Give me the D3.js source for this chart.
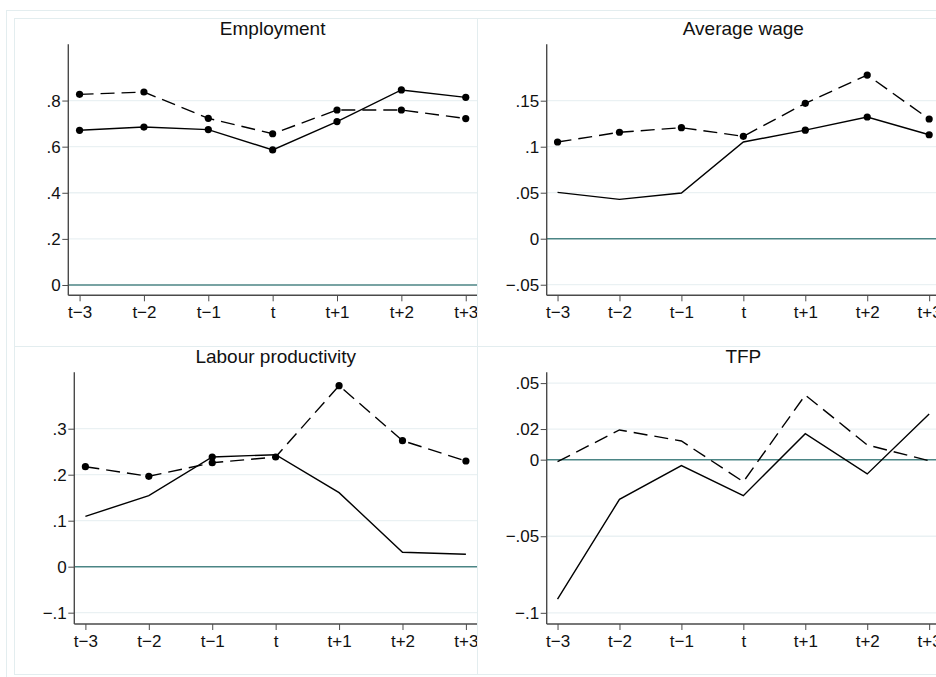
<!DOCTYPE html>
<html>
<head>
<meta charset="utf-8">
<script src="https://cdn.jsdelivr.net/npm/d3@7"></script>
<style>
  html, body { margin: 0; padding: 0; background: #fff; }
  svg { display: block; font-family: "Liberation Sans", Arial, Helvetica, sans-serif; }
</style>
</head>
<body>
<svg id="chart" width="936" height="677"></svg>
<script>
// ---------- data ----------
const periods = ["t−3", "t−2", "t−1", "t", "t+1", "t+2", "t+3"];
const panelTitles = ["Employment", "Average wage", "Labour productivity", "TFP"];

const employmentSolid  = [0.671, 0.685, 0.674, 0.586, 0.709, 0.846, 0.814];
const employmentDashed = [0.827, 0.837, 0.723, 0.656, 0.759, 0.759, 0.722];
const employmentSolidMarks  = [1, 1, 1, 1, 1, 1, 1];
const employmentDashedMarks = [1, 1, 1, 1, 1, 1, 1];

const wageSolid  = [0.0504, 0.0428, 0.0497, 0.1051, 0.118, 0.1323, 0.113];
const wageDashed = [0.1051, 0.1157, 0.1207, 0.1113, 0.1472, 0.1779, 0.1301];
const wageSolidMarks  = [0, 0, 0, 0, 1, 1, 1];
const wageDashedMarks = [1, 1, 1, 1, 1, 1, 1];

const labourSolid  = [0.1095, 0.1543, 0.2385, 0.2435, 0.161, 0.0313, 0.027];
const labourDashed = [0.2174, 0.1965, 0.226, 0.2385, 0.3935, 0.274, 0.2298];
const labourSolidMarks  = [0, 0, 1, 0, 0, 0, 0];
const labourDashedMarks = [1, 1, 1, 1, 1, 1, 1];

const tfpSolid  = [-0.0911, -0.0259, -0.0039, -0.0235, 0.017, -0.0093, 0.0298];
const tfpDashed = [-0.0013, 0.0194, 0.0122, -0.0144, 0.0422, 0.0096, -0.0007];
const tfpSolidMarks  = [0, 0, 0, 0, 0, 0, 0];
const tfpDashedMarks = [0, 0, 0, 0, 0, 0, 0];

const employmentTicks = [0, 0.2, 0.4, 0.6, 0.8];
const employmentTickLabels = ["0", ".2", ".4", ".6", ".8"];
const wageTicks = [-0.05, 0, 0.05, 0.1, 0.15];
const wageTickLabels = ["−.05", "0", ".05", ".1", ".15"];
const labourTicks = [-0.1, 0, 0.1, 0.2, 0.3];
const labourTickLabels = ["−.1", "0", ".1", ".2", ".3"];
const tfpTicks = [-0.1, -0.05, 0, 0.02, 0.05];
const tfpTickLabels = ["−.1", "−.05", "0", ".02", ".05"];

const employmentDomain = [-0.0447, 1.044];
const wageDomain = [-0.0615, 0.2113];
const labourDomain = [-0.1246, 0.4226];
const tfpDomain = [-0.1073, 0.05705];

// ---------- layout ----------
const panels = [
  { title: panelTitles[0], solid: employmentSolid, dashed: employmentDashed, sm: employmentSolidMarks, dm: employmentDashedMarks,
    ticks: employmentTicks, labels: employmentTickLabels, domain: employmentDomain,
    px: 14, py: 18, left: 68.3, top: 44.3, bottom: 295.3 },
  { title: panelTitles[1], solid: wageSolid, dashed: wageDashed, sm: wageSolidMarks, dm: wageDashedMarks,
    ticks: wageTicks, labels: wageTickLabels, domain: wageDomain,
    px: 477, py: 18, left: 546.7, top: 44.3, bottom: 295.3 },
  { title: panelTitles[2], solid: labourSolid, dashed: labourDashed, sm: labourSolidMarks, dm: labourDashedMarks,
    ticks: labourTicks, labels: labourTickLabels, domain: labourDomain,
    px: 14, py: 346, left: 74.3, top: 372.3, bottom: 624 },
  { title: panelTitles[3], solid: tfpSolid, dashed: tfpDashed, sm: tfpSolidMarks, dm: tfpDashedMarks,
    ticks: tfpTicks, labels: tfpTickLabels, domain: tfpDomain,
    px: 477, py: 346, left: 546.7, top: 372.3, bottom: 624 }
];
const panelW = 463, panelH = 328;

const svg = d3.select("#chart");
const frameColor = "#e3edef";
const gridColor = "#eaf1f3";
const zeroColor = "#4b8585";
const axisColor = "#4a4a4a";
const tickFont = 17;
const titleFont = 19;

// outer frame
svg.append("rect").attr("x", 6.5).attr("y", 10.5).attr("width", 960).attr("height", 700)
  .attr("fill", "none").attr("stroke", frameColor).attr("stroke-width", 1);

panels.forEach(p => {
  const g = svg.append("g");
  g.append("rect").attr("x", p.px + 0.5).attr("y", p.py + 0.5).attr("width", panelW).attr("height", panelH)
    .attr("fill", "#fff").attr("stroke", frameColor).attr("stroke-width", 1);

  const right = p.px + panelW;
  const x = d3.scalePoint().domain(periods).range([p.left, right]).padding(0.175);
  const y = d3.scaleLinear().domain(p.domain).range([p.bottom, p.top]);

  // grid
  g.selectAll(".grid").data(p.ticks.filter(t => t !== 0)).join("line")
    .attr("x1", p.left).attr("x2", right)
    .attr("y1", d => y(d)).attr("y2", d => y(d))
    .attr("stroke", gridColor).attr("stroke-width", 1.3);

  // zero line
  g.append("line").attr("x1", p.left).attr("x2", right).attr("y1", y(0)).attr("y2", y(0))
    .attr("stroke", zeroColor).attr("stroke-width", 1.5);

  // y axis
  const yAxis = d3.axisLeft(y).tickValues(p.ticks)
    .tickFormat((d, i) => p.labels[i]).tickSize(6).tickPadding(1.5);
  const ya = g.append("g").attr("transform", `translate(${p.left},0)`).call(yAxis);
  ya.select(".domain").attr("d", `M0,${p.top}V${p.bottom}`).attr("stroke", axisColor).attr("stroke-width", 1.4);
  ya.selectAll(".tick line").attr("stroke", axisColor);
  ya.selectAll(".tick text").attr("font-size", tickFont).attr("fill", "#111").style("font-family", "Liberation Sans, Arial, sans-serif");

  // x axis
  const xAxis = d3.axisBottom(x).tickSize(6).tickPadding(4.5);
  const xa = g.append("g").attr("transform", `translate(0,${p.bottom})`).call(xAxis);
  xa.select(".domain").attr("d", `M${p.left},0H${right}`).attr("stroke", axisColor).attr("stroke-width", 1.4);
  xa.selectAll(".tick line").attr("stroke", axisColor);
  xa.selectAll(".tick text").attr("font-size", tickFont).attr("fill", "#111").style("font-family", "Liberation Sans, Arial, sans-serif");

  // title
  g.append("text").attr("x", (p.left + right) / 2).attr("y", p.py + 17)
    .attr("text-anchor", "middle").attr("font-size", titleFont).attr("fill", "#111").text(p.title);

  const line = d3.line().x((d, i) => x(periods[i])).y(d => y(d));
  g.append("path").attr("d", line(p.dashed)).attr("fill", "none").attr("stroke", "#000")
    .attr("stroke-width", 1.4).attr("stroke-dasharray", "14,7");
  g.append("path").attr("d", line(p.solid)).attr("fill", "none").attr("stroke", "#000")
    .attr("stroke-width", 1.4);

  const marks = (vals, flags) => vals.map((v, i) => ({ v, i, f: flags[i] })).filter(d => d.f);
  g.selectAll(".dm").data(marks(p.dashed, p.dm)).join("circle")
    .attr("cx", d => x(periods[d.i])).attr("cy", d => y(d.v)).attr("r", 3.6).attr("fill", "#000");
  g.selectAll(".sm").data(marks(p.solid, p.sm)).join("circle")
    .attr("cx", d => x(periods[d.i])).attr("cy", d => y(d.v)).attr("r", 3.6).attr("fill", "#000");
});
</script>
</body>
</html>
